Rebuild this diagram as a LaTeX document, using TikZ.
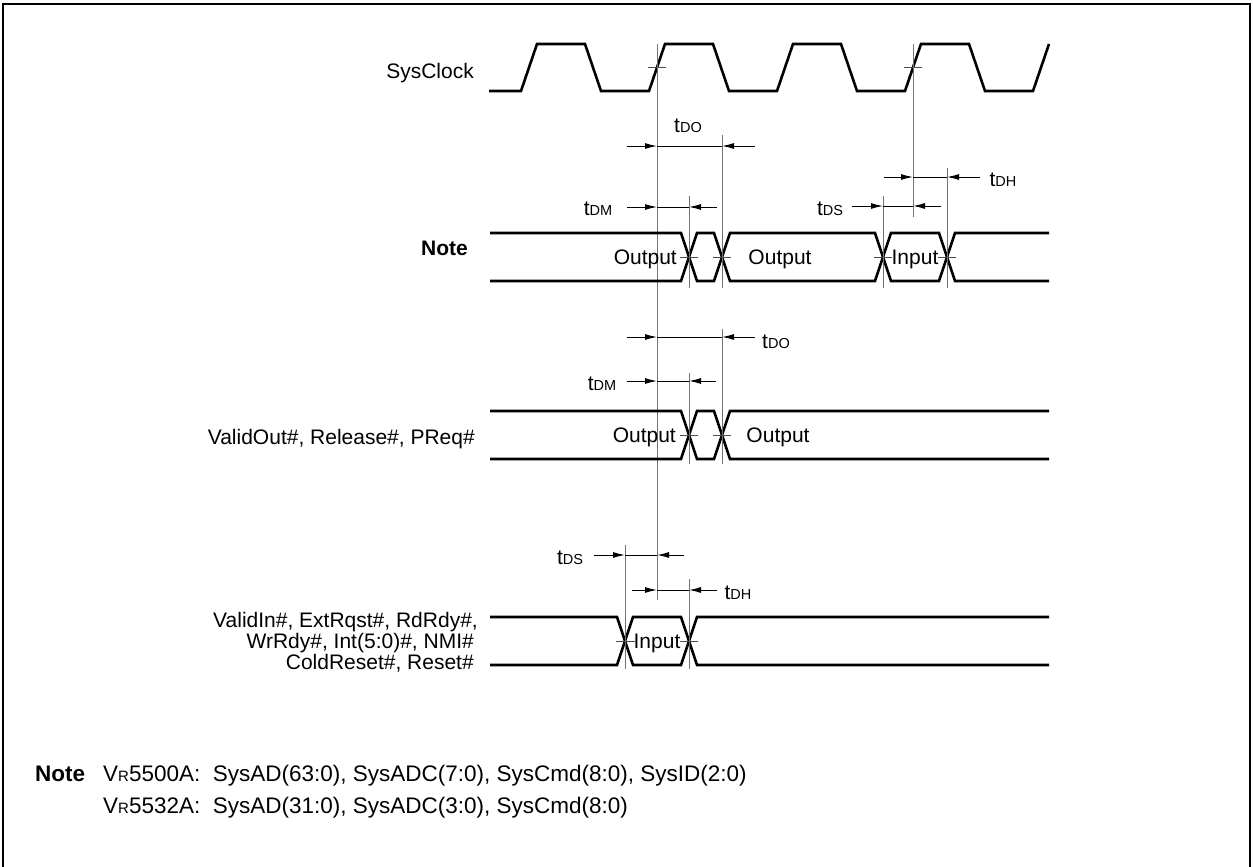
\documentclass[tikz,border=0pt]{standalone}
\usepackage{fontspec}
\setmainfont{Liberation Sans}
\usetikzlibrary{arrows.meta}
\newcommand{\smc}[1]{{\fontsize{14.5}{14.5}\selectfont #1}}
\newcommand{\smcb}[1]{{\fontsize{15}{15}\selectfont #1}}
\begin{document}
\begin{tikzpicture}[x=1pt,y=-1pt,
  every node/.style={inner sep=0pt, font=\fontsize{21}{25}\selectfont},
  notefont/.style={font=\fontsize{22.5}{27}\selectfont},
  sig/.style={line width=2.6pt},
  refl/.style={line width=1pt, black!55},
  dim/.style={line width=1pt},
  arr/.style={line width=1pt, -{Latex[length=12pt,width=6pt]}},
  tick/.style={line width=1pt, black!70}]
\useasboundingbox (0,0) rectangle (1253,867);
% frame
\draw[line width=2.6pt] (3,867) -- (3,4) -- (1250,4) -- (1250,867);

% ---------- labels left
\node[anchor=base east] (lclk) at (474,78) {SysClock};
\node[anchor=base east] (lnote) at (468,255) {\bfseries Note};
\node[anchor=base east] (lvo) at (475,444) {ValidOut\#, Release\#, PReq\#};
\node[anchor=base east] (lvi1) at (478,627) {ValidIn\#, ExtRqst\#, RdRdy\#,};
\node[anchor=base east] (lvi2) at (474,648) {WrRdy\#, Int(5:0)\#, NMI\#};
\node[anchor=base east] (lvi3) at (474,669) {ColdReset\#, Reset\#};

% ---------- clock
\draw[sig] (489,91) -- (521,91) -- (537,44) -- (585,44) -- (601,91) -- (649,91)
  -- (665,44) -- (713,44) -- (729,91) -- (777,91) -- (793,44) -- (841,44)
  -- (857,91) -- (905,91) -- (921,44) -- (969,44) -- (985,91) -- (1033,91) -- (1049,44);
\draw[tick] (648,68) -- (666,68);
\draw[tick] (904,68) -- (922,68);

% main reference lines
\draw[refl] (657,44) -- (657,600);
\draw[refl] (913,44) -- (913,217);

% ---------- Note bus
\draw[sig] (490,233) -- (681,233) -- (697,281) -- (714,281) -- (730,233) -- (875,233)
  -- (891,281) -- (939,281) -- (955,233) -- (1049,233);
\draw[sig] (490,281) -- (681,281) -- (697,233) -- (714,233) -- (730,281) -- (875,281)
  -- (891,233) -- (939,233) -- (955,281) -- (1049,281);
\draw[refl] (722,135) -- (722,288);
\draw[refl] (689,196) -- (689,288);
\draw[refl] (883,196) -- (883,288);
\draw[refl] (947,168) -- (947,288);
\draw[tick] (680,257) -- (698,257);
\draw[tick] (713,257) -- (731,257);
\draw[tick] (874,257) -- (892,257);
\draw[tick] (938,257) -- (956,257);
\node[anchor=base east] (o1) at (677,264.5) {Output};
\node[anchor=base] (o2) at (780,264.5) {Output};
\node[anchor=base] (i1) at (915,264.5) {Input};

% tDO
\draw[dim] (657,146) -- (722,146);
\draw[arr] (627,146) -- (657,146);
\draw[arr] (755,146) -- (722,146);
\node[anchor=base] (tdo1) at (688,132) {t\smc{DO}};
% tDM
\draw[dim] (657,207) -- (689,207);
\draw[arr] (627,207) -- (657,207);
\draw[arr] (717,207) -- (689,207);
\node[anchor=base] (tdm1) at (598,215) {t\smc{DM}};
% tDH
\draw[dim] (913,177) -- (947,177);
\draw[arr] (884,177) -- (913,177);
\draw[arr] (980,177) -- (947,177);
\node[anchor=base] (tdh1) at (1003,186) {t\smc{DH}};
% tDS
\draw[dim] (883,206) -- (913,206);
\draw[arr] (852,206) -- (883,206);
\draw[arr] (941,206) -- (913,206);
\node[anchor=base] (tds1) at (830,215) {t\smc{DS}};

% ---------- ValidOut bus
\draw[sig] (490,411) -- (681,411) -- (697,459) -- (714,459) -- (730,411) -- (1049,411);
\draw[sig] (490,459) -- (681,459) -- (697,411) -- (714,411) -- (730,459) -- (1049,459);
\draw[refl] (722,329) -- (722,464);
\draw[refl] (689,373) -- (689,464);
\draw[tick] (680,435) -- (698,435);
\draw[tick] (713,435) -- (731,435);
\node[anchor=base east] (o3) at (676,442.5) {Output};
\node[anchor=base] (o4) at (778,442.5) {Output};
\draw[dim] (657,337) -- (722,337);
\draw[arr] (627,337) -- (657,337);
\draw[arr] (755,337) -- (722,337);
\node[anchor=base] (tdo2) at (776,348) {t\smc{DO}};
\draw[dim] (657,381) -- (689,381);
\draw[arr] (627,381) -- (657,381);
\draw[arr] (716,381) -- (689,381);
\node[anchor=base] (tdm2) at (602,390) {t\smc{DM}};

% ---------- Input bus
\draw[sig] (490,617) -- (617,617) -- (633,665) -- (681,665) -- (697,617) -- (1049,617);
\draw[sig] (490,665) -- (617,665) -- (633,617) -- (681,617) -- (697,665) -- (1049,665);
\draw[refl] (625,545) -- (625,669);
\draw[refl] (689,579) -- (689,669);
\draw[tick] (616,641) -- (635,641);
\draw[tick] (680,641) -- (698,641);
\node[anchor=base] (i2) at (657,648.5) {Input};
\draw[dim] (625,555) -- (657,555);
\draw[arr] (594,555) -- (625,555);
\draw[arr] (684,555) -- (657,555);
\node[anchor=base] (tds2) at (570,564) {t\smc{DS}};
\draw[dim] (657,590) -- (689,590);
\draw[arr] (632,590) -- (657,590);
\draw[arr] (717,590) -- (689,590);
\node[anchor=base] (tdh2) at (738,599) {t\smc{DH}};

% ---------- bottom note
\node[notefont, anchor=base west] (nb) at (35,781) {\bfseries Note};
\node[notefont, anchor=base west] (n1) at (103,781) {V\smcb{R}5500A:\ \ SysAD(63:0), SysADC(7:0), SysCmd(8:0), SysID(2:0)};
\node[notefont, anchor=base west] (n2) at (103,813) {V\smcb{R}5532A:\ \ SysAD(31:0), SysADC(3:0), SysCmd(8:0)};
\end{tikzpicture}
\end{document}
